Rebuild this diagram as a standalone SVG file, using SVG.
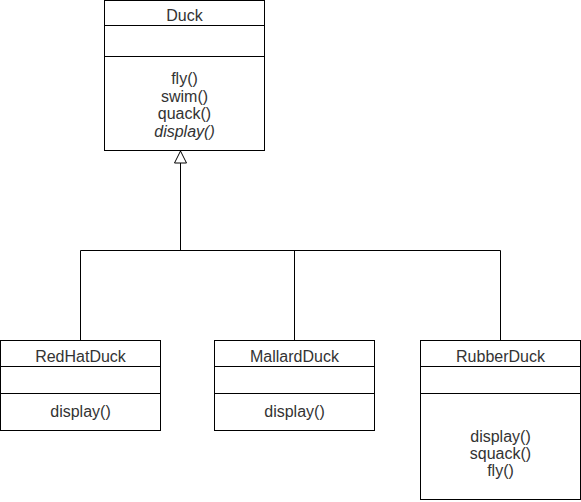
<svg xmlns="http://www.w3.org/2000/svg" width="581" height="502" viewBox="0 0 581 502">
<defs>
<style>
.box{fill:#fff;stroke:#000;stroke-width:1}
.ln{fill:none;stroke:#000;stroke-width:1}
text{font-family:"Liberation Sans",Arial,sans-serif;font-size:16px;fill:#333;text-anchor:middle}
</style>
<marker id="inh" markerWidth="14" markerHeight="14" refX="13" refY="7" orient="auto" markerUnits="userSpaceOnUse">
<path d="M1,1 L13,7 L1,13 Z" fill="#fff" stroke="#000" stroke-width="1"/>
</marker>
</defs>
<rect width="581" height="502" fill="#fff"/>
<g id="Duck">
<rect class="box" x="104.5" y="0.5" width="160" height="150"/>
<path class="ln" d="M104.5,25.5 H264.5 M104.5,56.5 H264.5"/>
<text x="184.5" y="20.5">Duck</text>
<text x="184.5" y="83.5">fly()</text>
<text x="184.5" y="101.5">swim()</text>
<text x="184.5" y="119">quack()</text>
<text x="184.5" y="136.5" font-style="italic">display()</text>
</g>
<g id="RedHatDuck">
<rect class="box" x="0.5" y="340.5" width="160" height="90"/>
<path class="ln" d="M0.5,366.5 H160.5 M0.5,393.5 H160.5"/>
<text x="80.5" y="361.5">RedHatDuck</text>
<text x="80.5" y="416.5">display()</text>
</g>
<g id="MallardDuck">
<rect class="box" x="214.5" y="340.5" width="160" height="90"/>
<path class="ln" d="M214.5,366.5 H374.5 M214.5,393.5 H374.5"/>
<text x="294.5" y="361.5">MallardDuck</text>
<text x="294.5" y="416.5">display()</text>
</g>
<g id="RubberDuck">
<rect class="box" x="420.5" y="340.5" width="160" height="159"/>
<path class="ln" d="M420.5,366.5 H580.5 M420.5,393.5 H580.5"/>
<text x="500.5" y="361.5">RubberDuck</text>
<text x="500.5" y="441.5">display()</text>
<text x="500.5" y="458.5">squack()</text>
<text x="500.5" y="475.5">fly()</text>
</g>
<g id="connectors">
<path class="ln" d="M180.5,250.5 L180.5,151" marker-end="url(#inh)"/>
<path class="ln" d="M80.5,340.5 L80.5,250.5 L500.5,250.5 L500.5,340.5"/>
<path class="ln" d="M294.5,250.5 L294.5,340.5"/>
</g>
</svg>
